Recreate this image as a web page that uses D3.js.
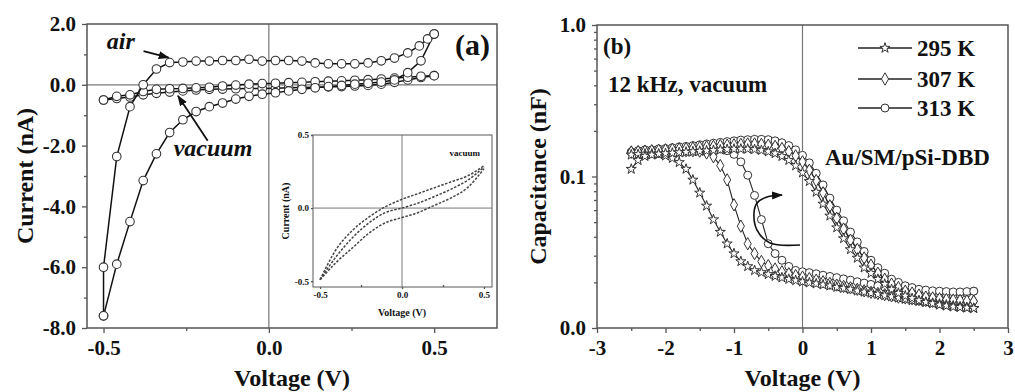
<!DOCTYPE html>
<html>
<head>
<meta charset="utf-8">
<script src="https://cdn.jsdelivr.net/npm/d3@7"></script>
<style>
  body { margin: 0; background: #fff; }
  text { font-family: "Liberation Serif", "Times New Roman", serif; font-weight: bold; fill: #111; }
</style>
</head>
<body>
<svg id="chart" width="1015" height="392"></svg>
<script>
// ---- panel (a): I-V loops ----
const airUpV = [-0.50, -0.50, -0.46, -0.42, -0.38, -0.34, -0.30, -0.26, -0.22, -0.18, -0.14, -0.10, -0.06, -0.02, 0.02, 0.06, 0.10, 0.14, 0.18, 0.22, 0.26, 0.30, 0.34, 0.38, 0.42, 0.455, 0.48, 0.50];
const airUpI = [-7.6, -6.0, -2.36, -0.72, 0.0, 0.52, 0.73, 0.75, 0.78, 0.78, 0.80, 0.80, 0.84, 0.78, 0.80, 0.80, 0.78, 0.72, 0.69, 0.69, 0.69, 0.72, 0.79, 0.88, 1.05, 1.28, 1.51, 1.67];

const sweepV = [-0.50, -0.46, -0.42, -0.38, -0.34, -0.30, -0.26, -0.22, -0.18, -0.14, -0.10, -0.06, -0.02, 0.02, 0.06, 0.10, 0.14, 0.18, 0.22, 0.26, 0.30, 0.34, 0.38, 0.42, 0.46, 0.50];
const airLowI = [-7.6, -5.9, -4.5, -3.15, -2.27, -1.57, -1.15, -0.88, -0.72, -0.60, -0.47, -0.38, -0.31, -0.26, -0.20, -0.15, -0.10, -0.06, -0.02, 0.02, 0.05, 0.09, 0.16, 0.40, 0.79, 1.67];
const vacUpI = [-0.50, -0.38, -0.33, -0.22, -0.15, -0.13, -0.12, -0.10, -0.08, -0.04, -0.01, 0.02, 0.04, 0.05, 0.07, 0.08, 0.10, 0.12, 0.13, 0.15, 0.17, 0.19, 0.22, 0.25, 0.28, 0.30];
const vacLowI = [-0.50, -0.45, -0.40, -0.33, -0.28, -0.24, -0.20, -0.17, -0.15, -0.14, -0.13, -0.12, -0.12, -0.11, -0.10, -0.09, -0.08, -0.07, -0.06, -0.04, -0.02, 0.02, 0.08, 0.16, 0.24, 0.30];

// inset (vacuum only)
const insetV = [-0.5, -0.4, -0.3, -0.2, -0.1, 0.0, 0.1, 0.2, 0.3, 0.4, 0.5];
const insetUp = [-0.49, -0.28, -0.15, -0.06, 0.01, 0.06, 0.10, 0.14, 0.18, 0.22, 0.29];
const insetMid = [-0.49, -0.33, -0.20, -0.10, -0.03, 0.0, 0.035, 0.08, 0.13, 0.19, 0.28];
const insetLow = [-0.49, -0.37, -0.27, -0.17, -0.10, -0.065, -0.03, 0.02, 0.07, 0.14, 0.27];

const aXTicks = [-0.5, 0.0, 0.5];
const aYTicks = [-8, -6, -4, -2, 0, 2];

// ---- panel (b): C-V loops ----
const bVolt = [-2.5, -2.4, -2.3, -2.2, -2.1, -2.0, -1.9, -1.8, -1.7, -1.6, -1.5, -1.4, -1.3, -1.2, -1.1, -1.0, -0.9, -0.8, -0.7, -0.6, -0.5, -0.4, -0.3, -0.2, -0.1, 0.0,
  0.1, 0.2, 0.3, 0.4, 0.5, 0.6, 0.7, 0.8, 0.9, 1.0, 1.1, 1.2, 1.3, 1.4, 1.5, 1.6, 1.7, 1.8, 1.9, 2.0, 2.1, 2.2, 2.3, 2.4, 2.5];

const c313Fwd = [0.145, 0.148, 0.150, 0.150, 0.152, 0.153, 0.155, 0.157, 0.158, 0.160, 0.162, 0.164, 0.166, 0.168, 0.170, 0.172, 0.174, 0.175, 0.176, 0.176, 0.175, 0.172, 0.167, 0.160, 0.150, 0.138,
  0.123, 0.105, 0.088, 0.072, 0.060, 0.051, 0.043, 0.037, 0.032, 0.028, 0.025, 0.023, 0.021, 0.020, 0.019, 0.0185, 0.018, 0.0178, 0.0176, 0.0175, 0.0174, 0.0173, 0.0173, 0.0174, 0.0175];
const c313Rev = [0.145, 0.146, 0.148, 0.149, 0.150, 0.151, 0.152, 0.153, 0.154, 0.155, 0.155, 0.155, 0.154, 0.152, 0.148, 0.140, 0.125, 0.102, 0.075, 0.052, 0.036, 0.031, 0.028, 0.0255, 0.024, 0.0235,
  0.0232, 0.0228, 0.0223, 0.0219, 0.0215, 0.0211, 0.0207, 0.0202, 0.0198, 0.0194, 0.019, 0.0186, 0.0183, 0.018, 0.0177, 0.0174, 0.0172, 0.017, 0.0168, 0.0167, 0.0166, 0.0166, 0.0167, 0.017, 0.0175];

const c307Fwd = [0.145, 0.146, 0.147, 0.148, 0.149, 0.150, 0.151, 0.152, 0.153, 0.154, 0.156, 0.157, 0.158, 0.160, 0.161, 0.162, 0.163, 0.164, 0.164, 0.163, 0.161, 0.158, 0.153, 0.146, 0.137, 0.125,
  0.110, 0.094, 0.078, 0.064, 0.053, 0.045, 0.038, 0.033, 0.029, 0.026, 0.023, 0.021, 0.0195, 0.0185, 0.0175, 0.017, 0.0165, 0.016, 0.0158, 0.0156, 0.0154, 0.0153, 0.0152, 0.0151, 0.015];
const c307Rev = [0.145, 0.145, 0.145, 0.146, 0.146, 0.147, 0.147, 0.148, 0.148, 0.148, 0.147, 0.143, 0.135, 0.118, 0.095, 0.065, 0.047, 0.036, 0.031, 0.0275, 0.0258, 0.0245, 0.0235, 0.0228, 0.0222, 0.0217,
  0.0212, 0.0207, 0.0202, 0.0197, 0.0192, 0.0188, 0.0184, 0.018, 0.0176, 0.0172, 0.0169, 0.0166, 0.0163, 0.016, 0.0158, 0.0156, 0.0154, 0.0152, 0.015, 0.0149, 0.0148, 0.0147, 0.0147, 0.0148, 0.015];

const c295Fwd = [0.112, 0.128, 0.136, 0.139, 0.141, 0.142, 0.143, 0.144, 0.145, 0.146, 0.147, 0.148, 0.149, 0.150, 0.151, 0.152, 0.152, 0.152, 0.151, 0.149, 0.146, 0.142, 0.136, 0.128, 0.118, 0.106,
  0.093, 0.079, 0.066, 0.055, 0.046, 0.039, 0.033, 0.029, 0.025, 0.023, 0.021, 0.0195, 0.018, 0.017, 0.0163, 0.0157, 0.0152, 0.0148, 0.0145, 0.0142, 0.014, 0.0138, 0.0137, 0.0136, 0.0135];
const c295Rev = [0.139, 0.140, 0.141, 0.141, 0.140, 0.137, 0.132, 0.124, 0.112, 0.095, 0.078, 0.064, 0.052, 0.043, 0.036, 0.031, 0.0275, 0.0255, 0.024, 0.0233, 0.0226, 0.022, 0.0215, 0.021, 0.0206, 0.0202,
  0.0199, 0.0196, 0.0193, 0.019, 0.0186, 0.0183, 0.018, 0.0176, 0.0173, 0.017, 0.0167, 0.0164, 0.0161, 0.0158, 0.0155, 0.0152, 0.015, 0.0148, 0.0146, 0.0144, 0.0142, 0.014, 0.0138, 0.0136, 0.0135];

const bXTicks = [-3, -2, -1, 0, 1, 2, 3];
const bYTicks = [0.01, 0.1, 1];
const legendNames = ["295 K", "307 K", "313 K"];

const svg = d3.select("#chart");
const axisColor = "#555";
const fmt1 = d => d.toFixed(1);

const defs = svg.append("defs");
defs.append("marker")
  .attr("id", "arrow")
  .attr("markerUnits", "userSpaceOnUse")
  .attr("markerWidth", 12).attr("markerHeight", 10)
  .attr("refX", 10).attr("refY", 4).attr("orient", "auto")
  .append("path").attr("d", "M0,0 L11,4 L0,8 Z").attr("fill", "#111");

// shared helper for styling axes
function styleAxis(g, size) {
  g.select(".domain").remove();
  g.selectAll(".tick line").attr("stroke", axisColor).attr("stroke-width", 1.3);
  g.selectAll(".tick text").attr("font-size", size).attr("fill", "#111");
}

function zip(xs, ys) {
  return xs.map((x, i) => [x, ys[i]]);
}

// ================= panel (a) =================
const xA = d3.scaleLinear().domain([-0.55, 0.69]).range([87, 497]);
const yA = d3.scaleLinear().domain([-8, 2]).range([328, 24]);

const gA = svg.append("g");

// zero lines
gA.append("line")
  .attr("x1", xA(0)).attr("x2", xA(0)).attr("y1", yA(2)).attr("y2", yA(-8))
  .attr("stroke", "#777").attr("stroke-width", 1.2);
gA.append("line")
  .attr("x1", xA.range()[0]).attr("x2", xA.range()[1]).attr("y1", yA(0)).attr("y2", yA(0))
  .attr("stroke", "#777").attr("stroke-width", 1.2);

gA.append("g").attr("transform", `translate(0,${yA(-8)})`)
  .call(d3.axisBottom(xA).tickValues(aXTicks).tickFormat(fmt1).tickSize(5).tickPadding(7))
  .call(g => styleAxis(g, 21));
gA.append("g").attr("transform", `translate(0,${yA(-8)})`)
  .call(d3.axisBottom(xA).tickValues([-0.25, 0.25]).tickFormat("").tickSize(3))
  .call(g => styleAxis(g, 0));
gA.append("g").attr("transform", `translate(${xA.range()[0]},0)`)
  .call(d3.axisLeft(yA).tickValues(aYTicks).tickFormat(fmt1).tickSize(5).tickPadding(6))
  .call(g => styleAxis(g, 21));
gA.append("g").attr("transform", `translate(${xA.range()[0]},0)`)
  .call(d3.axisLeft(yA).tickValues([-7, -5, -3, -1, 1]).tickFormat("").tickSize(3))
  .call(g => styleAxis(g, 0));

gA.append("rect")
  .attr("x", xA.range()[0]).attr("y", yA(2))
  .attr("width", xA.range()[1] - xA.range()[0]).attr("height", yA(-8) - yA(2))
  .attr("fill", "none").attr("stroke", axisColor).attr("stroke-width", 1.5);

const lineA = d3.line().x(d => xA(d[0])).y(d => yA(d[1]));
function drawLoopA(pts) {
  gA.append("path").attr("d", lineA(pts))
    .attr("fill", "none").attr("stroke", "#111").attr("stroke-width", 1.5);
  gA.append("g").selectAll("circle").data(pts).join("circle")
    .attr("cx", d => xA(d[0])).attr("cy", d => yA(d[1])).attr("r", 4.3)
    .attr("fill", "#fff").attr("stroke", "#333").attr("stroke-width", 1.1);
}
drawLoopA(zip(sweepV, vacLowI));
drawLoopA(zip(sweepV, vacUpI));
drawLoopA(zip(sweepV, airLowI));
drawLoopA(zip(airUpV, airUpI));

// annotations
gA.append("text").attr("x", xA(-0.49)).attr("y", yA(1.18))
  .attr("font-size", 24).attr("font-style", "italic").text("air");
gA.append("line")
  .attr("x1", xA(-0.379)).attr("y1", yA(1.11)).attr("x2", xA(-0.303)).attr("y2", yA(0.89))
  .attr("stroke", "#111").attr("stroke-width", 1.8).attr("marker-end", "url(#arrow)");
gA.append("text").attr("x", xA(-0.288)).attr("y", yA(-2.33))
  .attr("font-size", 24).attr("font-style", "italic").text("vacuum");
gA.append("line")
  .attr("x1", xA(-0.185)).attr("y1", yA(-1.84)).attr("x2", xA(-0.275)).attr("y2", yA(-0.36))
  .attr("stroke", "#111").attr("stroke-width", 1.8).attr("marker-end", "url(#arrow)");
gA.append("text").attr("x", 455).attr("y", 55).attr("font-size", 30).text("(a)");

// axis titles
gA.append("text").attr("x", (xA.range()[0] + xA.range()[1]) / 2).attr("y", 386)
  .attr("text-anchor", "middle").attr("font-size", 24).text("Voltage (V)");
gA.append("text").attr("transform", `translate(33,${(yA(2) + yA(-8)) / 2}) rotate(-90)`)
  .attr("text-anchor", "middle").attr("font-size", 24).text("Current (nA)");

// ---- inset ----
const xI = d3.scaleLinear().domain([-0.543, 0.549]).range([313, 492]);
const yI = d3.scaleLinear().domain([-0.54, 0.5]).range([287, 135]);
const gI = svg.append("g");
gI.append("rect")
  .attr("x", 313).attr("y", 135).attr("width", 179).attr("height", 152)
  .attr("fill", "#fff").attr("stroke", "#666").attr("stroke-width", 1.1);
gI.append("line")
  .attr("x1", xI(0)).attr("x2", xI(0)).attr("y1", yI.range()[1]).attr("y2", yI.range()[0])
  .attr("stroke", "#777").attr("stroke-width", 1);
gI.append("line")
  .attr("x1", xI.range()[0]).attr("x2", xI.range()[1]).attr("y1", yI(0)).attr("y2", yI(0))
  .attr("stroke", "#777").attr("stroke-width", 1);
gI.append("g").attr("transform", `translate(0,${yI.range()[0]})`)
  .call(d3.axisBottom(xI).tickValues([-0.5, 0, 0.5]).tickFormat(fmt1).tickSize(2).tickPadding(3))
  .call(g => styleAxis(g, 9));
gI.append("g").attr("transform", `translate(0,${yI.range()[0]})`)
  .call(d3.axisTop(xI).tickValues([-0.25, 0.25]).tickFormat("").tickSize(2))
  .call(g => styleAxis(g, 0));
gI.append("g").attr("transform", `translate(${xI.range()[0]},0)`)
  .call(d3.axisLeft(yI).tickValues([-0.5, 0, 0.5]).tickFormat(fmt1).tickSize(2).tickPadding(2))
  .call(g => styleAxis(g, 9));
const lineI = d3.line().x(d => xI(d[0])).y(d => yI(d[1])).curve(d3.curveMonotoneX);
[insetUp, insetMid, insetLow].forEach(s => {
  gI.append("path").attr("d", lineI(zip(insetV, s)))
    .attr("fill", "none").attr("stroke", "#444").attr("stroke-width", 1.5)
    .attr("stroke-dasharray", "2.5,1.5");
});
gI.append("text").attr("x", 480).attr("y", 156).attr("text-anchor", "end")
  .attr("font-size", 9).text("vacuum");
gI.append("text").attr("x", 402).attr("y", 316).attr("text-anchor", "middle")
  .attr("font-size", 10).text("Voltage (V)");
gI.append("text").attr("transform", "translate(289,211) rotate(-90)")
  .attr("text-anchor", "middle").attr("font-size", 10).text("Current (nA)");

// ================= panel (b) =================
const xB = d3.scaleLinear().domain([-3, 3]).range([597, 1008]);
const yB = d3.scaleLog().domain([0.01, 1]).range([328, 25]);
const gB = svg.append("g");

gB.append("line")
  .attr("x1", xB(0)).attr("x2", xB(0)).attr("y1", yB(1)).attr("y2", yB(0.01))
  .attr("stroke", "#777").attr("stroke-width", 1.2);

gB.append("g").attr("transform", `translate(0,${yB(0.01)})`)
  .call(d3.axisBottom(xB).tickValues(bXTicks).tickFormat(d => d).tickSize(5).tickPadding(7))
  .call(g => styleAxis(g, 21));
gB.append("g").attr("transform", `translate(0,${yB(0.01)})`)
  .call(d3.axisBottom(xB).tickValues([-2.5, -1.5, -0.5, 0.5, 1.5, 2.5]).tickFormat("").tickSize(3))
  .call(g => styleAxis(g, 0));
gB.append("g").attr("transform", `translate(${xB.range()[0]},0)`)
  .call(d3.axisLeft(yB).tickValues(bYTicks).tickFormat(fmt1).tickSize(5).tickPadding(6))
  .call(g => styleAxis(g, 21));
gB.append("g").attr("transform", `translate(${xB.range()[0]},0)`)
  .call(d3.axisLeft(yB).tickValues(yB.ticks().filter(t => !bYTicks.includes(t))).tickFormat("").tickSize(3))
  .call(g => styleAxis(g, 0));

gB.append("rect")
  .attr("x", xB.range()[0]).attr("y", yB(1))
  .attr("width", xB.range()[1] - xB.range()[0]).attr("height", yB(0.01) - yB(1))
  .attr("fill", "none").attr("stroke", axisColor).attr("stroke-width", 1.5);

const symStar = d3.symbol().type(d3.symbolStar).size(32);
const symDiamond = d3.symbol().type(d3.symbolDiamond).size(44);
const symCircle = d3.symbol().type(d3.symbolCircle).size(50);
const symbolsB = [symStar, symDiamond, symCircle];

const lineB = d3.line().x(d => xB(d[0])).y(d => yB(d[1]));
function drawLoopB(pts, sym) {
  gB.append("path").attr("d", lineB(pts))
    .attr("fill", "none").attr("stroke", "#222").attr("stroke-width", 1.1);
  gB.append("g").selectAll("path").data(pts).join("path")
    .attr("transform", d => `translate(${xB(d[0])},${yB(d[1])})`)
    .attr("d", sym())
    .attr("fill", "#fff").attr("stroke", "#333").attr("stroke-width", 1);
}
drawLoopB(zip(bVolt, c313Rev), symCircle);
drawLoopB(zip(bVolt, c313Fwd), symCircle);
drawLoopB(zip(bVolt, c307Rev), symDiamond);
drawLoopB(zip(bVolt, c307Fwd), symDiamond);
drawLoopB(zip(bVolt, c295Rev), symStar);
drawLoopB(zip(bVolt, c295Fwd), symStar);

// curved arrow
const arcPts = [[-0.036, 0.0353], [-0.474, 0.0364], [-0.664, 0.0443], [-0.708, 0.0574], [-0.664, 0.0668], [-0.518, 0.0732], [-0.299, 0.0755]];
gB.append("path")
  .attr("d", d3.line().x(d => xB(d[0])).y(d => yB(d[1])).curve(d3.curveCatmullRom)(arcPts))
  .attr("fill", "none").attr("stroke", "#111").attr("stroke-width", 1.6)
  .attr("marker-end", "url(#arrow)");

// legend
const legY = [48, 79, 108];
legendNames.forEach((name, i) => {
  gB.append("line").attr("x1", 858).attr("x2", 912).attr("y1", legY[i]).attr("y2", legY[i])
    .attr("stroke", "#222").attr("stroke-width", 1.6);
  gB.append("path").attr("transform", `translate(885,${legY[i]})`).attr("d", symbolsB[i]())
    .attr("fill", "#fff").attr("stroke", "#333").attr("stroke-width", 1);
  gB.append("text").attr("x", 917).attr("y", legY[i] + 8).attr("font-size", 23).text(name);
});

gB.append("text").attr("x", 825).attr("y", 165).attr("font-size", 23).text("Au/SM/pSi-DBD");
gB.append("text").attr("x", 603).attr("y", 54).attr("font-size", 23).text("(b)");
gB.append("text").attr("x", 608).attr("y", 92).attr("font-size", 23).text("12 kHz, vacuum");

gB.append("text").attr("x", (xB.range()[0] + xB.range()[1]) / 2).attr("y", 386)
  .attr("text-anchor", "middle").attr("font-size", 24).text("Voltage (V)");
gB.append("text").attr("transform", `translate(546,${(yB(1) + yB(0.01)) / 2}) rotate(-90)`)
  .attr("text-anchor", "middle").attr("font-size", 24).text("Capacitance (nF)");
</script>
</body>
</html>
